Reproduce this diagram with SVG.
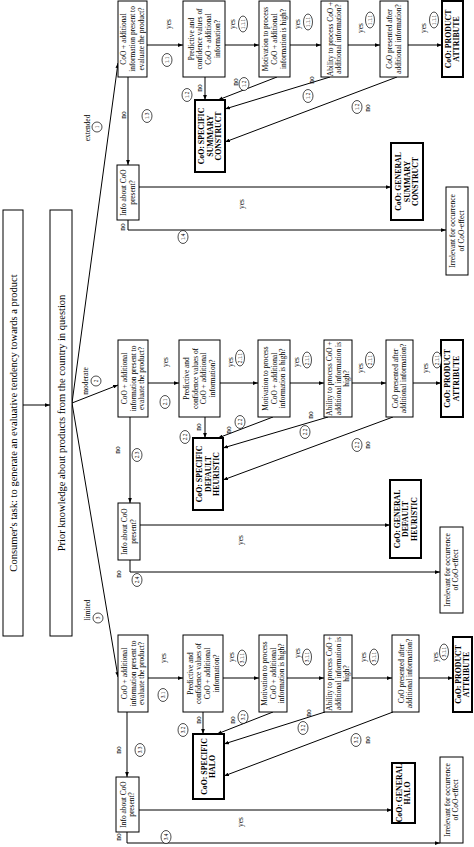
<svg xmlns="http://www.w3.org/2000/svg" width="474" height="847" viewBox="0 0 474 847">
<style>
.b{fill:#fff;stroke:#000;stroke-width:1}
.bb{fill:#fff;stroke:#000;stroke-width:2}
text{font-family:"Liberation Serif","Times New Roman",serif;text-anchor:middle;fill:#000}
.t{font-size:7.4px}
.tb{font-size:7.8px;font-weight:bold}
.tl{font-size:10.5px}
.s{font-size:7.4px}
.cl{font-size:5.2px}
.c{fill:#fff;stroke:#000;stroke-width:0.7}
#conn line,#conn path{stroke:#000;stroke-width:1;fill:none}
</style>
<defs>
<marker id="a" viewBox="0 0 8 6" refX="8" refY="3" markerWidth="5" markerHeight="4" orient="auto" markerUnits="userSpaceOnUse"><path d="M0,0L8,3L0,6z" fill="#000"/></marker>
</defs>

<g id="conn">
<line x1="23" y1="405" x2="50" y2="405" marker-end="url(#a)"/>
<line x1="72" y1="403" x2="118" y2="63" marker-end="url(#a)"/>
<line x1="72" y1="403" x2="118" y2="385" marker-end="url(#a)"/>
<line x1="72" y1="403" x2="118" y2="677" marker-end="url(#a)"/>
<line x1="147" y1="45" x2="183" y2="45" marker-end="url(#a)"/>
<line x1="225" y1="45" x2="259" y2="45" marker-end="url(#a)"/>
<line x1="290" y1="45" x2="321" y2="45" marker-end="url(#a)"/>
<line x1="348" y1="45" x2="380" y2="45" marker-end="url(#a)"/>
<line x1="408" y1="45" x2="442" y2="45" marker-end="url(#a)"/>
<line x1="205" y1="77" x2="205" y2="100" marker-end="url(#a)"/>
<line x1="277" y1="77" x2="218" y2="100" marker-end="url(#a)"/>
<line x1="330" y1="77" x2="225" y2="109" marker-end="url(#a)"/>
<line x1="397" y1="77" x2="225" y2="142" marker-end="url(#a)"/>
<line x1="128" y1="77" x2="128" y2="165" marker-end="url(#a)"/>
<line x1="139" y1="187" x2="391" y2="187" marker-end="url(#a)"/>
<path d="M128,220V230H446" marker-end="url(#a)"/>
<line x1="148" y1="383" x2="179" y2="383" marker-end="url(#a)"/>
<line x1="220" y1="383" x2="258" y2="383" marker-end="url(#a)"/>
<line x1="290" y1="383" x2="324" y2="383" marker-end="url(#a)"/>
<line x1="352" y1="383" x2="386" y2="383" marker-end="url(#a)"/>
<line x1="413" y1="383" x2="441" y2="383" marker-end="url(#a)"/>
<line x1="205" y1="417" x2="205" y2="438" marker-end="url(#a)"/>
<line x1="273" y1="417" x2="218" y2="438" marker-end="url(#a)"/>
<line x1="328" y1="417" x2="223" y2="448" marker-end="url(#a)"/>
<line x1="393" y1="417" x2="223" y2="480" marker-end="url(#a)"/>
<line x1="130" y1="417" x2="130" y2="503" marker-end="url(#a)"/>
<line x1="140" y1="525" x2="390" y2="525" marker-end="url(#a)"/>
<path d="M130,560V572H440" marker-end="url(#a)"/>
<line x1="148" y1="678" x2="183" y2="678" marker-end="url(#a)"/>
<line x1="223" y1="678" x2="259" y2="678" marker-end="url(#a)"/>
<line x1="287" y1="678" x2="324" y2="678" marker-end="url(#a)"/>
<line x1="352" y1="678" x2="392" y2="678" marker-end="url(#a)"/>
<line x1="419" y1="678" x2="453" y2="678" marker-end="url(#a)"/>
<line x1="203" y1="712" x2="203" y2="734" marker-end="url(#a)"/>
<line x1="273" y1="712" x2="217" y2="734" marker-end="url(#a)"/>
<line x1="325" y1="712" x2="224" y2="744" marker-end="url(#a)"/>
<line x1="393" y1="712" x2="224" y2="776" marker-end="url(#a)"/>
<line x1="127" y1="712" x2="127" y2="777" marker-end="url(#a)"/>
<line x1="139" y1="810" x2="392" y2="810" marker-end="url(#a)"/>
<path d="M127,832V843H440" marker-end="url(#a)"/>
</g>

<g id="task"><rect class="b" x="3" y="210" width="20" height="426"/>
<text class="tl" transform="translate(13,423) rotate(-90)" y="3.6">Consumer's task: to generate an evaluative tendency towards a product</text></g>
<g id="prior"><rect class="b" x="50" y="210" width="22" height="426"/>
<text class="tl" transform="translate(61,423) rotate(-90)" y="3.6">Prior knowledge about products from the country in question</text></g>

<g id="e_present"><rect class="b" x="118" y="1" width="29" height="76"/>
<text class="t" transform="translate(132.5,39) rotate(-90)"><tspan x="0" y="-6.1">CoO + additional</tspan><tspan x="0" dy="8.7">information present to</tspan><tspan x="0" dy="8.7">evaluate the product?</tspan></text></g>
<g id="e_predictive"><rect class="b" x="183" y="1" width="42" height="76"/>
<text class="t" transform="translate(204,39) rotate(-90)"><tspan x="0" y="-10.45">Predictive and</tspan><tspan x="0" dy="8.7">confidence values of</tspan><tspan x="0" dy="8.7">CoO + additional</tspan><tspan x="0" dy="8.7">information?</tspan></text></g>
<g id="e_motivation"><rect class="b" x="259" y="1" width="31" height="76"/>
<text class="t" transform="translate(274.5,39) rotate(-90)"><tspan x="0" y="-6.1">Motivation to process</tspan><tspan x="0" dy="8.7">CoO + additional</tspan><tspan x="0" dy="8.7">information is high?</tspan></text></g>
<g id="e_ability"><rect class="b" x="321" y="1" width="27" height="76"/>
<text class="t" transform="translate(334.5,39) rotate(-90)"><tspan x="0" y="-1.75">Ability to process CoO +</tspan><tspan x="0" dy="8.7">additional information?</tspan></text></g>
<g id="e_after"><rect class="b" x="380" y="1" width="28" height="76"/>
<text class="t" transform="translate(394,39) rotate(-90)"><tspan x="0" y="-1.75">CoO presented after</tspan><tspan x="0" dy="8.7">additional information?</tspan></text></g>
<g id="e_attribute"><rect class="bb" x="442" y="1" width="21" height="76"/>
<text class="tb" transform="translate(452.5,39) rotate(-90)"><tspan x="0" y="-1.6">CoO: PRODUCT</tspan><tspan x="0" dy="8.5">ATTRIBUTE</tspan></text></g>
<g id="e_specific"><rect class="bb" x="195" y="100" width="30" height="72"/>
<text class="tb" transform="translate(210,136) rotate(-90)"><tspan x="0" y="-5.8">CoO: SPECIFIC</tspan><tspan x="0" dy="8.5">SUMMARY</tspan><tspan x="0" dy="8.5">CONSTRUCT</tspan></text></g>
<g id="e_info"><rect class="b" x="117" y="165" width="22" height="55"/>
<text class="t" transform="translate(128,192.5) rotate(-90)"><tspan x="0" y="-1.75">Info about CoO</tspan><tspan x="0" dy="8.7">present?</tspan></text></g>
<g id="e_general"><rect class="bb" x="391" y="143" width="32" height="77"/>
<text class="tb" transform="translate(407,181.5) rotate(-90)"><tspan x="0" y="-5.8">CoO: GENERAL</tspan><tspan x="0" dy="8.5">SUMMARY</tspan><tspan x="0" dy="8.5">CONSTRUCT</tspan></text></g>
<g id="e_irrelevant"><rect class="b" x="446" y="187" width="22" height="88"/>
<text class="t" transform="translate(457,231) rotate(-90)"><tspan x="0" y="-1.75">Irrelevant for occurrence</tspan><tspan x="0" dy="8.7">of CoO-effect</tspan></text></g>

<g id="m_present"><rect class="b" x="118" y="340" width="30" height="77"/>
<text class="t" transform="translate(133,378.5) rotate(-90)"><tspan x="0" y="-6.1">CoO + additional</tspan><tspan x="0" dy="8.7">information present to</tspan><tspan x="0" dy="8.7">evaluate the product?</tspan></text></g>
<g id="m_predictive"><rect class="b" x="179" y="340" width="41" height="77"/>
<text class="t" transform="translate(199.5,378.5) rotate(-90)"><tspan x="0" y="-10.45">Predictive and</tspan><tspan x="0" dy="8.7">confidence values of</tspan><tspan x="0" dy="8.7">CoO + additional</tspan><tspan x="0" dy="8.7">information?</tspan></text></g>
<g id="m_motivation"><rect class="b" x="258" y="340" width="32" height="77"/>
<text class="t" transform="translate(274,378.5) rotate(-90)"><tspan x="0" y="-6.1">Motivation to process</tspan><tspan x="0" dy="8.7">CoO + additional</tspan><tspan x="0" dy="8.7">information is high?</tspan></text></g>
<g id="m_ability"><rect class="b" x="324" y="340" width="28" height="77"/>
<text class="t" transform="translate(338,378.5) rotate(-90)"><tspan x="0" y="-6.1">Ability to process CoO +</tspan><tspan x="0" dy="8.7">additional information is</tspan><tspan x="0" dy="8.7">high?</tspan></text></g>
<g id="m_after"><rect class="b" x="386" y="340" width="27" height="77"/>
<text class="t" transform="translate(399.5,378.5) rotate(-90)"><tspan x="0" y="-1.75">CoO presented after</tspan><tspan x="0" dy="8.7">additional information?</tspan></text></g>
<g id="m_attribute"><rect class="bb" x="441" y="340" width="22" height="77"/>
<text class="tb" transform="translate(452,378.5) rotate(-90)"><tspan x="0" y="-1.6">CoO: PRODUCT</tspan><tspan x="0" dy="8.5">ATTRIBUTE</tspan></text></g>
<g id="m_specific"><rect class="bb" x="193" y="438" width="30" height="72"/>
<text class="tb" transform="translate(208,474) rotate(-90)"><tspan x="0" y="-5.8">CoO: SPECIFIC</tspan><tspan x="0" dy="8.5">DEFAULT</tspan><tspan x="0" dy="8.5">HEURISTIC</tspan></text></g>
<g id="m_info"><rect class="b" x="118" y="503" width="22" height="57"/>
<text class="t" transform="translate(129,531.5) rotate(-90)"><tspan x="0" y="-1.75">Info about CoO</tspan><tspan x="0" dy="8.7">present?</tspan></text></g>
<g id="m_general"><rect class="bb" x="390" y="480" width="31" height="78"/>
<text class="tb" transform="translate(405.5,519) rotate(-90)"><tspan x="0" y="-5.8">CoO: GENERAL</tspan><tspan x="0" dy="8.5">DEFAULT</tspan><tspan x="0" dy="8.5">HEURISTIC</tspan></text></g>
<g id="m_irrelevant"><rect class="b" x="440" y="527" width="23" height="86"/>
<text class="t" transform="translate(451.5,570) rotate(-90)"><tspan x="0" y="-1.75">Irrelevant for occurrence</tspan><tspan x="0" dy="8.7">of CoO-effect</tspan></text></g>

<g id="l_present"><rect class="b" x="118" y="635" width="30" height="77"/>
<text class="t" transform="translate(133,673.5) rotate(-90)"><tspan x="0" y="-6.1">CoO + additional</tspan><tspan x="0" dy="8.7">information present to</tspan><tspan x="0" dy="8.7">evaluate the product?</tspan></text></g>
<g id="l_predictive"><rect class="b" x="183" y="635" width="40" height="77"/>
<text class="t" transform="translate(203,673.5) rotate(-90)"><tspan x="0" y="-10.45">Predictive and</tspan><tspan x="0" dy="8.7">confidence values of</tspan><tspan x="0" dy="8.7">CoO + additional</tspan><tspan x="0" dy="8.7">information?</tspan></text></g>
<g id="l_motivation"><rect class="b" x="259" y="635" width="28" height="77"/>
<text class="t" transform="translate(273,673.5) rotate(-90)"><tspan x="0" y="-6.1">Motivation to process</tspan><tspan x="0" dy="8.7">CoO + additional</tspan><tspan x="0" dy="8.7">information is high?</tspan></text></g>
<g id="l_ability"><rect class="b" x="324" y="635" width="28" height="77"/>
<text class="t" transform="translate(338,673.5) rotate(-90)"><tspan x="0" y="-6.1">Ability to process CoO +</tspan><tspan x="0" dy="8.7">additional information is</tspan><tspan x="0" dy="8.7">high?</tspan></text></g>
<g id="l_after"><rect class="b" x="392" y="635" width="27" height="77"/>
<text class="t" transform="translate(405.5,673.5) rotate(-90)"><tspan x="0" y="-1.75">CoO presented after</tspan><tspan x="0" dy="8.7">additional information?</tspan></text></g>
<g id="l_attribute"><rect class="bb" x="453" y="637" width="19" height="75"/>
<text class="tb" transform="translate(462.5,674.5) rotate(-90)"><tspan x="0" y="-1.6">CoO: PRODUCT</tspan><tspan x="0" dy="8.5">ATTRIBUTE</tspan></text></g>
<g id="l_specific"><rect class="bb" x="193" y="734" width="31" height="65"/>
<text class="tb" transform="translate(208.5,766.5) rotate(-90)"><tspan x="0" y="-1.6">CoO: SPECIFIC</tspan><tspan x="0" dy="8.5">HALO</tspan></text></g>
<g id="l_info"><rect class="b" x="116" y="777" width="23" height="55"/>
<text class="t" transform="translate(127.5,804.5) rotate(-90)"><tspan x="0" y="-1.75">Info about CoO</tspan><tspan x="0" dy="8.7">present?</tspan></text></g>
<g id="l_general"><rect class="bb" x="392" y="763" width="23" height="60"/>
<text class="tb" transform="translate(403.5,793) rotate(-90)"><tspan x="0" y="-1.6">CoO: GENERAL</tspan><tspan x="0" dy="8.5">HALO</tspan></text></g>
<g id="l_irrelevant"><rect class="b" x="440" y="757" width="23" height="86"/>
<text class="t" transform="translate(451.5,800) rotate(-90)"><tspan x="0" y="-1.75">Irrelevant for occurrence</tspan><tspan x="0" dy="8.7">of CoO-effect</tspan></text></g>

<g id="labels">
<text class="s" transform="translate(87,128) rotate(-90)" y="2.5">extended</text>
<circle class="c" cx="97" cy="127" r="5"/><text class="cl" transform="translate(97,127) rotate(-90)" y="1.8">1</text>
<text class="s" transform="translate(168,24) rotate(-90)" y="2.5">yes</text>
<ellipse class="c" cx="167" cy="60" rx="5" ry="6.5"/><text class="cl" transform="translate(167,60) rotate(-90)" y="1.8">1.1</text>
<text class="s" transform="translate(232,24) rotate(-90)" y="2.5">yes</text>
<ellipse class="c" cx="243" cy="24" rx="4.5" ry="8"/><text class="cl" transform="translate(243,24) rotate(-90)" y="1.8">1.1.1</text>
<text class="s" transform="translate(297,24) rotate(-90)" y="2.5">yes</text>
<ellipse class="c" cx="308" cy="22" rx="4.5" ry="8"/><text class="cl" transform="translate(308,22) rotate(-90)" y="1.8">1.1.1</text>
<text class="s" transform="translate(360,28) rotate(-90)" y="2.5">yes</text>
<ellipse class="c" cx="370" cy="20" rx="4.5" ry="8"/><text class="cl" transform="translate(370,20) rotate(-90)" y="1.8">1.1.1</text>
<text class="s" transform="translate(423,28) rotate(-90)" y="2.5">yes</text>
<ellipse class="c" cx="434" cy="20" rx="4.5" ry="8"/><text class="cl" transform="translate(434,20) rotate(-90)" y="1.8">1.1.1</text>
<text class="s" transform="translate(199,88) rotate(-90)" y="2.5">no</text>
<ellipse class="c" cx="187" cy="95" rx="5" ry="6.5"/><text class="cl" transform="translate(187,95) rotate(-90)" y="1.8">1.2</text>
<text class="s" transform="translate(235,82) rotate(-90)" y="2.5">no</text>
<ellipse class="c" cx="244" cy="84" rx="5" ry="6.5"/><text class="cl" transform="translate(244,84) rotate(-90)" y="1.8">1.2</text>
<text class="s" transform="translate(311,80) rotate(-90)" y="2.5">no</text>
<ellipse class="c" cx="308" cy="96" rx="5" ry="6.5"/><text class="cl" transform="translate(308,96) rotate(-90)" y="1.8">1.2</text>
<text class="s" transform="translate(367,108) rotate(-90)" y="2.5">no</text>
<ellipse class="c" cx="357" cy="107" rx="5" ry="6.5"/><text class="cl" transform="translate(357,107) rotate(-90)" y="1.8">1.2</text>
<text class="s" transform="translate(123,115) rotate(-90)" y="2.5">no</text>
<ellipse class="c" cx="147" cy="116" rx="5" ry="6.5"/><text class="cl" transform="translate(147,116) rotate(-90)" y="1.8">1.3</text>
<text class="s" transform="translate(241,204) rotate(-90)" y="2.5">yes</text>
<text class="s" transform="translate(122,227) rotate(-90)" y="2.5">no</text>
<ellipse class="c" cx="183" cy="237" rx="5" ry="6.5"/><text class="cl" transform="translate(183,237) rotate(-90)" y="1.8">1.4</text>
<text class="s" transform="translate(85,381) rotate(-90)" y="2.5">moderate</text>
<circle class="c" cx="96" cy="381" r="5"/><text class="cl" transform="translate(96,381) rotate(-90)" y="1.8">2</text>
<text class="s" transform="translate(165,362) rotate(-90)" y="2.5">yes</text>
<ellipse class="c" cx="165" cy="402" rx="5" ry="6.5"/><text class="cl" transform="translate(165,402) rotate(-90)" y="1.8">2.1</text>
<text class="s" transform="translate(230,362) rotate(-90)" y="2.5">yes</text>
<ellipse class="c" cx="240" cy="358" rx="4.5" ry="8"/><text class="cl" transform="translate(240,358) rotate(-90)" y="1.8">2.1.1</text>
<text class="s" transform="translate(296,362) rotate(-90)" y="2.5">yes</text>
<ellipse class="c" cx="307" cy="360" rx="4.5" ry="8"/><text class="cl" transform="translate(307,360) rotate(-90)" y="1.8">2.1.1</text>
<text class="s" transform="translate(360,368) rotate(-90)" y="2.5">yes</text>
<ellipse class="c" cx="370" cy="360" rx="4.5" ry="8"/><text class="cl" transform="translate(370,360) rotate(-90)" y="1.8">2.1.1</text>
<text class="s" transform="translate(425,368) rotate(-90)" y="2.5">yes</text>
<ellipse class="c" cx="437" cy="360" rx="4.5" ry="8"/><text class="cl" transform="translate(437,360) rotate(-90)" y="1.8">2.1.1</text>
<text class="s" transform="translate(198,427) rotate(-90)" y="2.5">no</text>
<ellipse class="c" cx="185" cy="437" rx="5" ry="6.5"/><text class="cl" transform="translate(185,437) rotate(-90)" y="1.8">2.2</text>
<text class="s" transform="translate(228,430) rotate(-90)" y="2.5">no</text>
<ellipse class="c" cx="240" cy="422" rx="5" ry="6.5"/><text class="cl" transform="translate(240,422) rotate(-90)" y="1.8">2.2</text>
<text class="s" transform="translate(310,415) rotate(-90)" y="2.5">no</text>
<ellipse class="c" cx="305" cy="432" rx="5" ry="6.5"/><text class="cl" transform="translate(305,432) rotate(-90)" y="1.8">2.2</text>
<text class="s" transform="translate(367,445) rotate(-90)" y="2.5">no</text>
<ellipse class="c" cx="357" cy="445" rx="5" ry="6.5"/><text class="cl" transform="translate(357,445) rotate(-90)" y="1.8">2.2</text>
<text class="s" transform="translate(117,450) rotate(-90)" y="2.5">no</text>
<ellipse class="c" cx="137" cy="455" rx="5" ry="6.5"/><text class="cl" transform="translate(137,455) rotate(-90)" y="1.8">2.3</text>
<text class="s" transform="translate(240,540) rotate(-90)" y="2.5">yes</text>
<text class="s" transform="translate(118,574) rotate(-90)" y="2.5">no</text>
<ellipse class="c" cx="137" cy="580" rx="5" ry="6.5"/><text class="cl" transform="translate(137,580) rotate(-90)" y="1.8">2.4</text>
<text class="s" transform="translate(87,610) rotate(-90)" y="2.5">limited</text>
<circle class="c" cx="98" cy="618" r="5"/><text class="cl" transform="translate(98,618) rotate(-90)" y="1.8">3</text>
<text class="s" transform="translate(163,658) rotate(-90)" y="2.5">yes</text>
<ellipse class="c" cx="163" cy="695" rx="5" ry="6.5"/><text class="cl" transform="translate(163,695) rotate(-90)" y="1.8">3.1</text>
<text class="s" transform="translate(231,657) rotate(-90)" y="2.5">yes</text>
<ellipse class="c" cx="242" cy="658" rx="4.5" ry="8"/><text class="cl" transform="translate(242,658) rotate(-90)" y="1.8">3.1.1</text>
<text class="s" transform="translate(297,653) rotate(-90)" y="2.5">yes</text>
<ellipse class="c" cx="307" cy="657" rx="4.5" ry="8"/><text class="cl" transform="translate(307,657) rotate(-90)" y="1.8">3.1.1</text>
<text class="s" transform="translate(363,657) rotate(-90)" y="2.5">yes</text>
<ellipse class="c" cx="374" cy="657" rx="4.5" ry="8"/><text class="cl" transform="translate(374,657) rotate(-90)" y="1.8">3.1.1</text>
<text class="s" transform="translate(435,657) rotate(-90)" y="2.5">yes</text>
<ellipse class="c" cx="444" cy="652" rx="4.5" ry="8"/><text class="cl" transform="translate(444,652) rotate(-90)" y="1.8">3.1.1</text>
<text class="s" transform="translate(198,720) rotate(-90)" y="2.5">no</text>
<ellipse class="c" cx="183" cy="730" rx="5" ry="6.5"/><text class="cl" transform="translate(183,730) rotate(-90)" y="1.8">3.2</text>
<text class="s" transform="translate(232,720) rotate(-90)" y="2.5">no</text>
<ellipse class="c" cx="243" cy="717" rx="5" ry="6.5"/><text class="cl" transform="translate(243,717) rotate(-90)" y="1.8">3.2</text>
<text class="s" transform="translate(308,713) rotate(-90)" y="2.5">no</text>
<ellipse class="c" cx="303" cy="728" rx="5" ry="6.5"/><text class="cl" transform="translate(303,728) rotate(-90)" y="1.8">3.2</text>
<text class="s" transform="translate(367,740) rotate(-90)" y="2.5">no</text>
<ellipse class="c" cx="356" cy="740" rx="5" ry="6.5"/><text class="cl" transform="translate(356,740) rotate(-90)" y="1.8">3.2</text>
<text class="s" transform="translate(118,750) rotate(-90)" y="2.5">no</text>
<ellipse class="c" cx="140" cy="750" rx="5" ry="6.5"/><text class="cl" transform="translate(140,750) rotate(-90)" y="1.8">3.3</text>
<text class="s" transform="translate(240,822) rotate(-90)" y="2.5">yes</text>
<text class="s" transform="translate(118,837) rotate(-90)" y="2.5">no</text>
<ellipse class="c" cx="166" cy="837" rx="5" ry="6.5"/><text class="cl" transform="translate(166,837) rotate(-90)" y="1.8">3.4</text>
</g>
</svg>
